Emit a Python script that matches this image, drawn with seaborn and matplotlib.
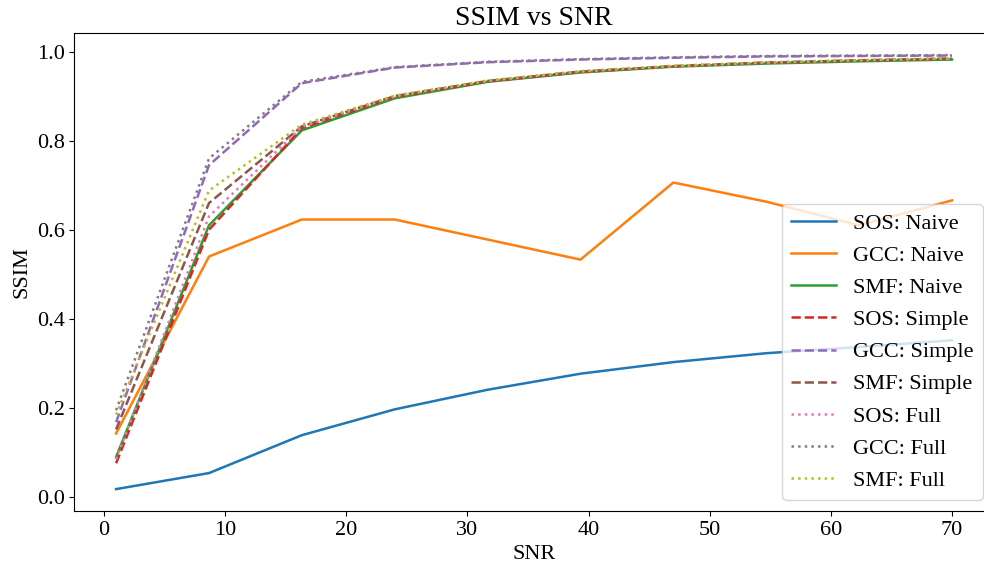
import matplotlib
matplotlib.use("Agg")
import matplotlib.pyplot as plt
import seaborn as sns
import pandas as pd

snr = [1, 8.67, 16.33, 24, 31.67, 39.33, 47, 54.67, 62.33, 70]

sos_naive = [0.018, 0.054, 0.139, 0.197, 0.241, 0.277, 0.303, 0.323, 0.337, 0.352]
gcc_naive = [0.143, 0.540, 0.623, 0.623, 0.578, 0.533, 0.706, 0.663, 0.610, 0.666]
smf_naive = [0.090, 0.610, 0.823, 0.895, 0.932, 0.953, 0.966, 0.973, 0.978, 0.982]
sos_simple = [0.076, 0.600, 0.828, 0.898, 0.933, 0.954, 0.967, 0.975, 0.980, 0.984]
gcc_simple = [0.168, 0.745, 0.929, 0.964, 0.976, 0.982, 0.986, 0.989, 0.990, 0.991]
smf_simple = [0.152, 0.660, 0.832, 0.900, 0.934, 0.955, 0.967, 0.975, 0.980, 0.984]
sos_full = [0.085, 0.630, 0.831, 0.899, 0.934, 0.955, 0.967, 0.975, 0.980, 0.984]
gcc_full = [0.195, 0.760, 0.932, 0.965, 0.977, 0.983, 0.987, 0.990, 0.991, 0.992]
smf_full = [0.185, 0.688, 0.836, 0.901, 0.935, 0.956, 0.968, 0.976, 0.981, 0.985]

labels = ["SOS: Naive", "GCC: Naive", "SMF: Naive",
          "SOS: Simple", "GCC: Simple", "SMF: Simple",
          "SOS: Full", "GCC: Full", "SMF: Full"]
series = [sos_naive, gcc_naive, smf_naive, sos_simple, gcc_simple,
          smf_simple, sos_full, gcc_full, smf_full]
styles = ["-", "-", "-", "--", "--", "--", ":", ":", ":"]

plt.rcParams["font.family"] = ["Liberation Serif", "DejaVu Serif"]
plt.rcParams["mathtext.fontset"] = "stix"

colors = sns.color_palette("tab10", 9)

fig = plt.figure(figsize=(9.84, 5.67), dpi=100)
ax = fig.add_axes([0.0755, 0.0991, 0.9345, 0.842])

for lab, vals, ls, c in zip(labels, series, styles, colors):
    df = pd.DataFrame({"SNR": snr, "SSIM": vals})
    sns.lineplot(data=df, x="SNR", y="SSIM", ax=ax, color=c,
                 linestyle=ls, label=lab, linewidth=1.8)

ax.set_title("SSIM vs SNR", fontsize=20)
ax.set_xlabel("SNR", fontsize=16)
ax.set_ylabel("SSIM", fontsize=16)
ax.tick_params(labelsize=16)
ax.set_xticks([0, 10, 20, 30, 40, 50, 60, 70])
ax.set_yticks([0.0, 0.2, 0.4, 0.6, 0.8, 1.0])
ax.legend(loc="lower right", fontsize=16, labelspacing=0.52)

fig.savefig("out.png", dpi=100)
